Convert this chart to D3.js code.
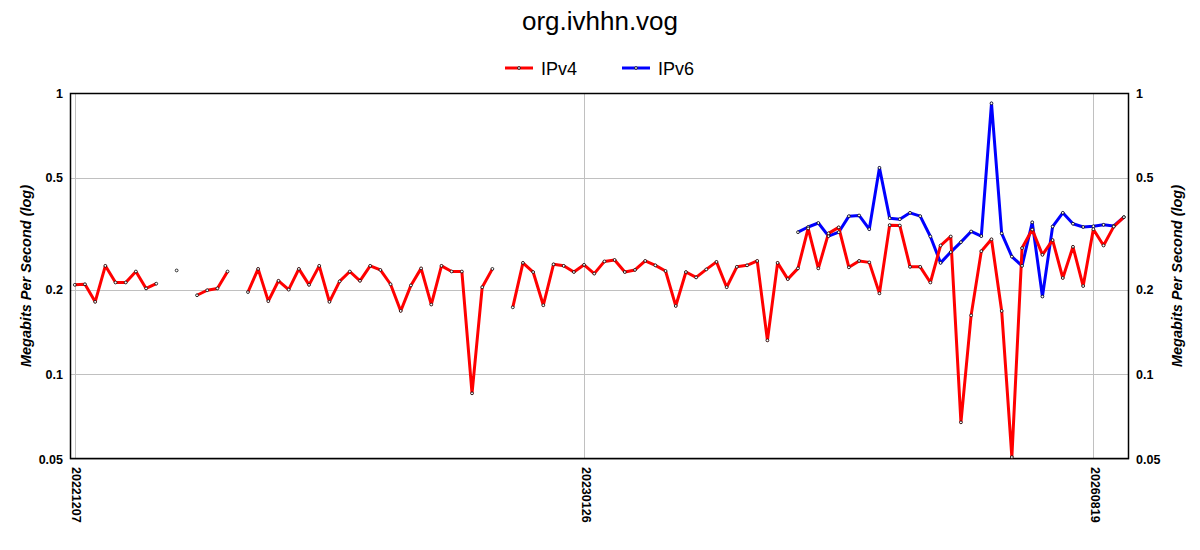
<!DOCTYPE html>
<html>
<head>
<meta charset="utf-8">
<script src="https://cdn.jsdelivr.net/npm/d3@7"></script>
<style>
  body { margin: 0; background: #fff; }
  text { font-family: "Liberation Sans", Arial, sans-serif; }
</style>
</head>
<body>
<script>
// chart values
const title = "org.ivhhn.vog";
const seriesNames = ["IPv4", "IPv6"];
const seriesColors = ["#ff0000", "#0000ff"];

const ipv4 = [
  0.208, 0.209, 0.181, 0.243, 0.212, 0.212, 0.232, 0.202, 0.210, null,
  0.234, null, 0.191, 0.199, 0.202, 0.232, null, 0.196, 0.237, 0.182,
  0.215, 0.200, 0.237, 0.208, 0.243, 0.181, 0.214, 0.232, 0.215, 0.243,
  0.235, 0.209, 0.168, 0.207, 0.238, 0.177, 0.243, 0.232, 0.232, 0.0856,
  0.204, 0.237, null, 0.173, 0.249, 0.231, 0.176, 0.246, 0.243, 0.231,
  0.245, 0.228, 0.252, 0.255, 0.231, 0.235, 0.253, 0.244, 0.233, 0.175,
  0.231, 0.221, 0.236, 0.251, 0.204, 0.241, 0.244, 0.253, 0.132, 0.249,
  0.218, 0.238, 0.330, 0.238, 0.317, 0.333, 0.240, 0.253, 0.250, 0.194,
  0.339, 0.338, 0.241, 0.241, 0.212, 0.287, 0.309, 0.0675, 0.162, 0.274,
  0.302, 0.168, 0.0508, 0.281, 0.327, 0.266, 0.300, 0.220, 0.284, 0.206,
  0.328, 0.287, 0.335, 0.362
];

const ipv6 = [
  null, null, null, null, null, null, null, null, null, null,
  null, null, null, null, null, null, null, null, null, null,
  null, null, null, null, null, null, null, null, null, null,
  null, null, null, null, null, null, null, null, null, null,
  null, null, null, null, null, null, null, null, null, null,
  null, null, null, null, null, null, null, null, null, null,
  null, null, null, null, null, null, null, null, null, null,
  null, 0.320, 0.334, 0.345, 0.310, 0.320, 0.365, 0.367, 0.328, 0.542,
  0.359, 0.356, 0.375, 0.365, 0.309, 0.249, 0.272, 0.295, 0.322, 0.310,
  0.919, 0.317, 0.262, 0.243, 0.347, 0.189, 0.335, 0.375, 0.343, 0.334,
  0.336, 0.340, 0.337, 0.362
];

const xTickIndex = [0, 50, 100];
const xTickLabels = ["20221207", "20230126", "20260819"];
const yTicks = [1, 0.5, 0.2, 0.1, 0.05];
const yTitle = "Megabits Per Second (log)";

const width = 1200;
const height = 550;
const margin = { top: 93, right: 71, bottom: 91, left: 70 };

const svg = d3.select("body")
  .append("svg")
  .attr("width", width)
  .attr("height", height);

const x = d3.scaleLinear()
  .domain([-0.47, ipv4.length - 0.5])
  .range([margin.left, width - margin.right]);

const y = d3.scaleLog()
  .domain([0.05, 1])
  .range([height - margin.bottom, margin.top]);

// grid
const grid = svg.append("g").attr("stroke", "#c0c0c0").attr("stroke-width", 1);
grid.selectAll(".hg")
  .data(yTicks)
  .join("line")
  .attr("x1", margin.left)
  .attr("x2", width - margin.right)
  .attr("y1", (d) => Math.round(y(d)) + 0.5)
  .attr("y2", (d) => Math.round(y(d)) + 0.5);
grid.selectAll(".vg")
  .data(xTickIndex)
  .join("line")
  .attr("x1", (d) => Math.round(x(d)) + 0.5)
  .attr("x2", (d) => Math.round(x(d)) + 0.5)
  .attr("y1", margin.top)
  .attr("y2", height - margin.bottom);

// axes
const fmt = (d) => String(d);
const leftAxis = svg.append("g")
  .attr("transform", `translate(${margin.left},0)`)
  .call(d3.axisLeft(y).tickValues(yTicks).tickFormat(fmt).tickSize(0).tickPadding(7));
const rightAxis = svg.append("g")
  .attr("transform", `translate(${width - margin.right},0)`)
  .call(d3.axisRight(y).tickValues(yTicks).tickFormat(fmt).tickSize(0).tickPadding(7));
[leftAxis, rightAxis].forEach((a) => {
  a.select(".domain").remove();
  a.selectAll("text")
    .attr("fill", "#000")
    .style("font-size", "12.5px")
    .style("font-weight", "bold");
});

const bottomAxis = svg.append("g")
  .attr("transform", `translate(0,${height - margin.bottom})`)
  .call(d3.axisBottom(x).tickValues(xTickIndex)
    .tickFormat((d, i) => xTickLabels[i]).tickSize(0).tickPadding(0));
bottomAxis.select(".domain").remove();
bottomAxis.selectAll("text")
  .attr("fill", "#000")
  .attr("dy", null)
  .attr("y", 0)
  .attr("text-anchor", "start")
  .attr("dominant-baseline", "central")
  .attr("transform", "translate(1,8) rotate(90)")
  .style("font-size", "12.5px")
  .style("font-weight", "bold");

// plot frame
svg.append("rect")
  .attr("x", margin.left + 0.5)
  .attr("y", margin.top + 0.5)
  .attr("width", width - margin.left - margin.right - 1)
  .attr("height", height - margin.top - margin.bottom - 1)
  .attr("fill", "none")
  .attr("stroke", "#000")
  .attr("stroke-width", 1.5);

// axis titles
svg.append("text")
  .attr("transform", `translate(31,${(margin.top + height - margin.bottom) / 2}) rotate(-90)`)
  .attr("text-anchor", "middle")
  .style("font-size", "14.5px")
  .style("font-weight", "bold")
  .style("font-style", "italic")
  .text(yTitle);
svg.append("text")
  .attr("transform", `translate(1182,${(margin.top + height - margin.bottom) / 2}) rotate(-90)`)
  .attr("text-anchor", "middle")
  .style("font-size", "14.5px")
  .style("font-weight", "bold")
  .style("font-style", "italic")
  .text(yTitle);

// title
svg.append("text")
  .attr("x", width / 2)
  .attr("y", 30)
  .attr("text-anchor", "middle")
  .style("font-size", "26px")
  .text(title);

// legend
const legendX = [505, 622];
const legend = svg.append("g")
  .selectAll("g")
  .data(seriesNames)
  .join("g")
  .attr("transform", (d, i) => `translate(${legendX[i]},68)`);
legend.append("line")
  .attr("x1", 0).attr("x2", 28)
  .attr("stroke", (d, i) => seriesColors[i])
  .attr("stroke-width", 3);
legend.append("circle")
  .attr("cx", 14).attr("r", 1.4)
  .attr("fill", "#fff").attr("stroke", "#000").attr("stroke-width", 0.8);
legend.append("text")
  .attr("x", 36)
  .attr("y", 6.5)
  .style("font-size", "18px")
  .text((d) => d);

// series lines, IPv6 below IPv4
const line = d3.line()
  .defined((d) => d != null)
  .x((d, i) => x(i))
  .y((d) => y(d));

const series = [
  { name: "IPv6", values: ipv6, color: seriesColors[1] },
  { name: "IPv4", values: ipv4, color: seriesColors[0] },
];

series.forEach((s) => {
  svg.append("path")
    .attr("d", line(s.values))
    .attr("fill", "none")
    .attr("stroke", s.color)
    .attr("stroke-width", 3)
    .attr("stroke-linejoin", "round");
});

series.forEach((s) => {
  svg.append("g")
    .selectAll("circle")
    .data(s.values.map((v, i) => ({ v, i })).filter((d) => d.v != null))
    .join("circle")
    .attr("cx", (d) => x(d.i))
    .attr("cy", (d) => y(d.v))
    .attr("r", 1.4)
    .attr("fill", "#fff")
    .attr("stroke", "#000")
    .attr("stroke-width", 0.8);
});
</script>
</body>
</html>
